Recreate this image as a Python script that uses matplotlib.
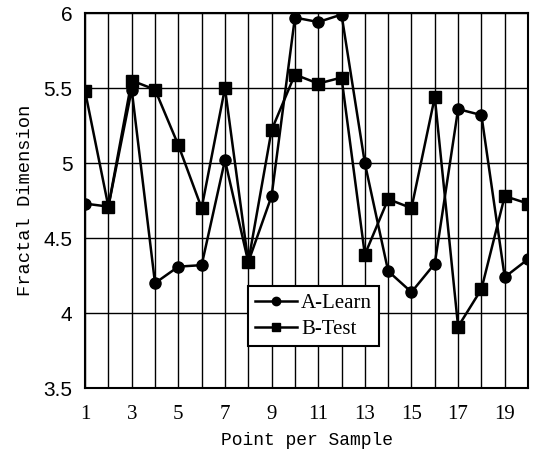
import matplotlib
matplotlib.use("Agg")
import matplotlib.pyplot as plt
import numpy as np

points = list(range(1, 21))
a_learn = [4.73, 4.71, 5.49, 4.20, 4.31, 4.32, 5.02, 4.34, 4.78, 5.97,
           5.94, 5.99, 5.00, 4.28, 4.14, 4.33, 5.36, 5.32, 4.24, 4.36]
b_test = [5.48, 4.71, 5.55, 5.49, 5.12, 4.70, 5.50, 4.34, 5.22, 5.59,
          5.53, 5.57, 4.39, 4.76, 4.70, 5.44, 3.91, 4.16, 4.78, 4.73]
x_ticks = [1, 3, 5, 7, 9, 11, 13, 15, 17, 19]
y_ticks = [3.5, 4, 4.5, 5, 5.5, 6]

fig = plt.figure(figsize=(5.35, 4.66), dpi=100)
ax = fig.add_axes([0.159, 0.167, 0.828, 0.805])

ax.plot(points, a_learn, color="black", lw=1.8, marker="o", ms=8, label="A-Learn")
ax.plot(points, b_test, color="black", lw=1.8, marker="s", ms=8, label="B-Test")

ax.set_xlim(1, 20)
ax.set_ylim(3.5, 6)
ax.set_xticks(points, minor=True)
ax.set_xticks(x_ticks)
ax.set_xticklabels([str(t) for t in x_ticks], fontfamily="Liberation Serif", fontsize=15)
ax.set_yticks(y_ticks)
ax.set_yticklabels([("%g" % t) for t in y_ticks], fontfamily="Liberation Sans", fontsize=15)
ax.tick_params(which="both", length=0)
ax.tick_params(axis="x", pad=12)
ax.tick_params(axis="y", pad=9)
ax.grid(True, which="both", axis="x", color="black", lw=1.0)
ax.grid(True, which="major", axis="y", color="black", lw=1.0)
for s in ax.spines.values():
    s.set_linewidth(1.5)
    s.set_color("black")

ax.set_xlabel("Point per Sample", fontfamily="Liberation Mono", fontsize=13, labelpad=6)
ax.set_ylabel("Fractal Dimension", fontfamily="Liberation Mono", fontsize=13.5, labelpad=7)

leg = ax.legend(loc="lower left", bbox_to_anchor=(0.368, 0.112), frameon=True,
                fancybox=False, edgecolor="black", framealpha=1,
                prop={"family": "Liberation Serif", "size": 15},
                handlelength=2.0, handletextpad=0.2, borderpad=0.35, labelspacing=0.3,
                borderaxespad=0, markerscale=0.75)
leg.get_frame().set_linewidth(1.5)

fig.savefig("out.png", dpi=100)
